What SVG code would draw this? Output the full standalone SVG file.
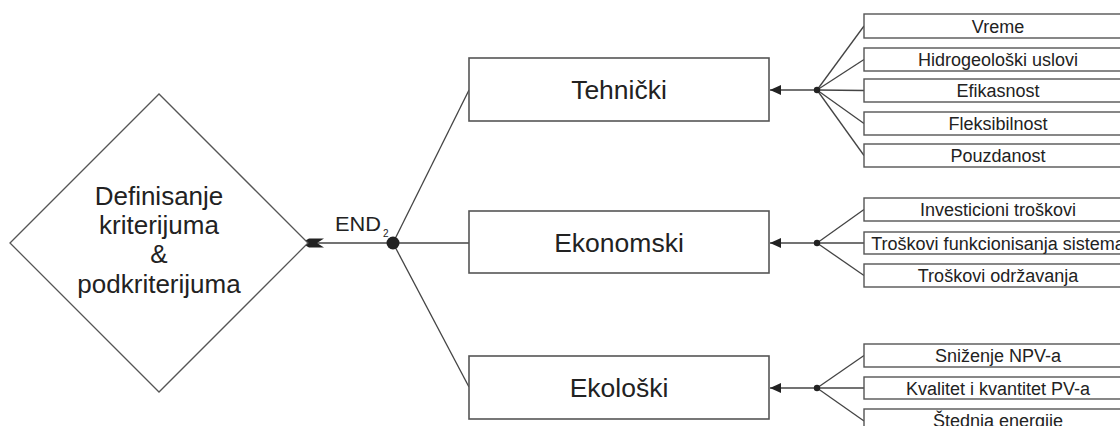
<svg xmlns="http://www.w3.org/2000/svg" width="1120" height="426" viewBox="0 0 1120 426">
<style>
.box{fill:#fff;stroke:#555;stroke-width:1.6}
.sub{fill:#fff;stroke:#555;stroke-width:1.4}
.ln{stroke:#444;stroke-width:1.3;fill:none}
.t{font-family:"Liberation Sans",Arial,sans-serif;fill:#222;text-anchor:middle}
.big{font-size:26.5px}
.dia{font-size:26px}
.small{font-size:18px}
</style>
<defs>
<marker id="arr" markerWidth="12" markerHeight="10" refX="11" refY="5" orient="auto" markerUnits="userSpaceOnUse">
<path d="M11,5 L0,0 L0,10 Z" fill="#222"/>
</marker>
</defs>
<rect width="1120" height="426" fill="#fff"/>
<g id="connectors">
<line class="ln" x1="317" y1="243" x2="393" y2="243"/>
<polygon points="301,243 309,238.5 324,238.5 317,243 324,247.5 309,247.5" fill="#222"/>
<line class="ln" x1="393" y1="243" x2="469" y2="90"/>
<line class="ln" x1="393" y1="243" x2="469" y2="243"/>
<line class="ln" x1="393" y1="243" x2="469" y2="387"/>
<circle cx="393" cy="243" r="6.5" fill="#222"/>
<line class="ln" x1="817" y1="90" x2="770" y2="90" marker-end="url(#arr)"/>
<line class="ln" x1="817" y1="90" x2="864" y2="26"/>
<line class="ln" x1="817" y1="90" x2="864" y2="59.5"/>
<line class="ln" x1="817" y1="90" x2="864" y2="90.5"/>
<line class="ln" x1="817" y1="90" x2="864" y2="123.5"/>
<line class="ln" x1="817" y1="90" x2="864" y2="155.5"/>
<circle cx="817" cy="90" r="3.2" fill="#222"/>
<line class="ln" x1="817" y1="243" x2="770" y2="243" marker-end="url(#arr)"/>
<line class="ln" x1="817" y1="243" x2="864" y2="209.5"/>
<line class="ln" x1="817" y1="243" x2="864" y2="243"/>
<line class="ln" x1="817" y1="243" x2="864" y2="275.5"/>
<circle cx="817" cy="243" r="3.2" fill="#222"/>
<line class="ln" x1="817" y1="388" x2="770" y2="388" marker-end="url(#arr)"/>
<line class="ln" x1="817" y1="388" x2="864" y2="355.5"/>
<line class="ln" x1="817" y1="388" x2="864" y2="388"/>
<line class="ln" x1="817" y1="388" x2="864" y2="421"/>
<circle cx="817" cy="388" r="3.2" fill="#222"/>
</g>
<g id="end2">
<text class="t" x="335" y="231" style="font-size:20px;text-anchor:start" textLength="46" lengthAdjust="spacingAndGlyphs">END</text>
<text class="t" x="383" y="237" style="font-size:10px;text-anchor:start">2</text>
</g>
<g id="definisanje">
<polygon class="box" points="10,243 159,94 308,243 159,392" style="stroke-width:1.3"/>
<text class="t dia" x="159" y="205">Definisanje</text>
<text class="t dia" x="159" y="234">kriterijuma</text>
<text class="t dia" x="159" y="263">&amp;</text>
<text class="t dia" x="159" y="293">podkriterijuma</text>
</g>
<g id="tehnicki">
<rect class="box" x="469" y="58" width="300" height="63"/>
<text class="t big" x="619" y="99">Tehnički</text>
</g>
<g id="ekonomski">
<rect class="box" x="469" y="211" width="300" height="62"/>
<text class="t big" x="619" y="252">Ekonomski</text>
</g>
<g id="ekoloski">
<rect class="box" x="469" y="356" width="300" height="63"/>
<text class="t big" x="619" y="397">Ekološki</text>
</g>
<g id="vreme"><rect class="sub" x="864" y="14" width="268" height="24"/><text class="t small" x="998" y="32.5">Vreme</text></g>
<g id="hidro"><rect class="sub" x="864" y="48" width="268" height="23"/><text class="t small" x="998" y="66">Hidrogeološki uslovi</text></g>
<g id="efikasnost"><rect class="sub" x="864" y="79" width="268" height="23"/><text class="t small" x="998" y="97">Efikasnost</text></g>
<g id="fleksibilnost"><rect class="sub" x="864" y="112" width="268" height="23"/><text class="t small" x="998" y="130">Fleksibilnost</text></g>
<g id="pouzdanost"><rect class="sub" x="864" y="144" width="268" height="23"/><text class="t small" x="998" y="162">Pouzdanost</text></g>
<g id="investicioni"><rect class="sub" x="864" y="198" width="268" height="23"/><text class="t small" x="998" y="216">Investicioni troškovi</text></g>
<g id="funkcionisanje"><rect class="sub" x="864" y="232" width="268" height="22"/><text class="t small" x="998" y="249.5">Troškovi funkcionisanja sistema</text></g>
<g id="odrzavanje"><rect class="sub" x="864" y="264" width="268" height="23"/><text class="t small" x="998" y="282">Troškovi održavanja</text></g>
<g id="snizenje"><rect class="sub" x="864" y="344" width="268" height="23"/><text class="t small" x="998" y="362">Sniženje NPV-a</text></g>
<g id="kvalitet"><rect class="sub" x="864" y="377" width="268" height="22"/><text class="t small" x="998" y="394.5">Kvalitet i kvantitet PV-a</text></g>
<g id="stednja"><rect class="sub" x="864" y="409" width="268" height="24"/><text class="t small" x="998" y="427">Štednja energije</text></g>
</svg>
